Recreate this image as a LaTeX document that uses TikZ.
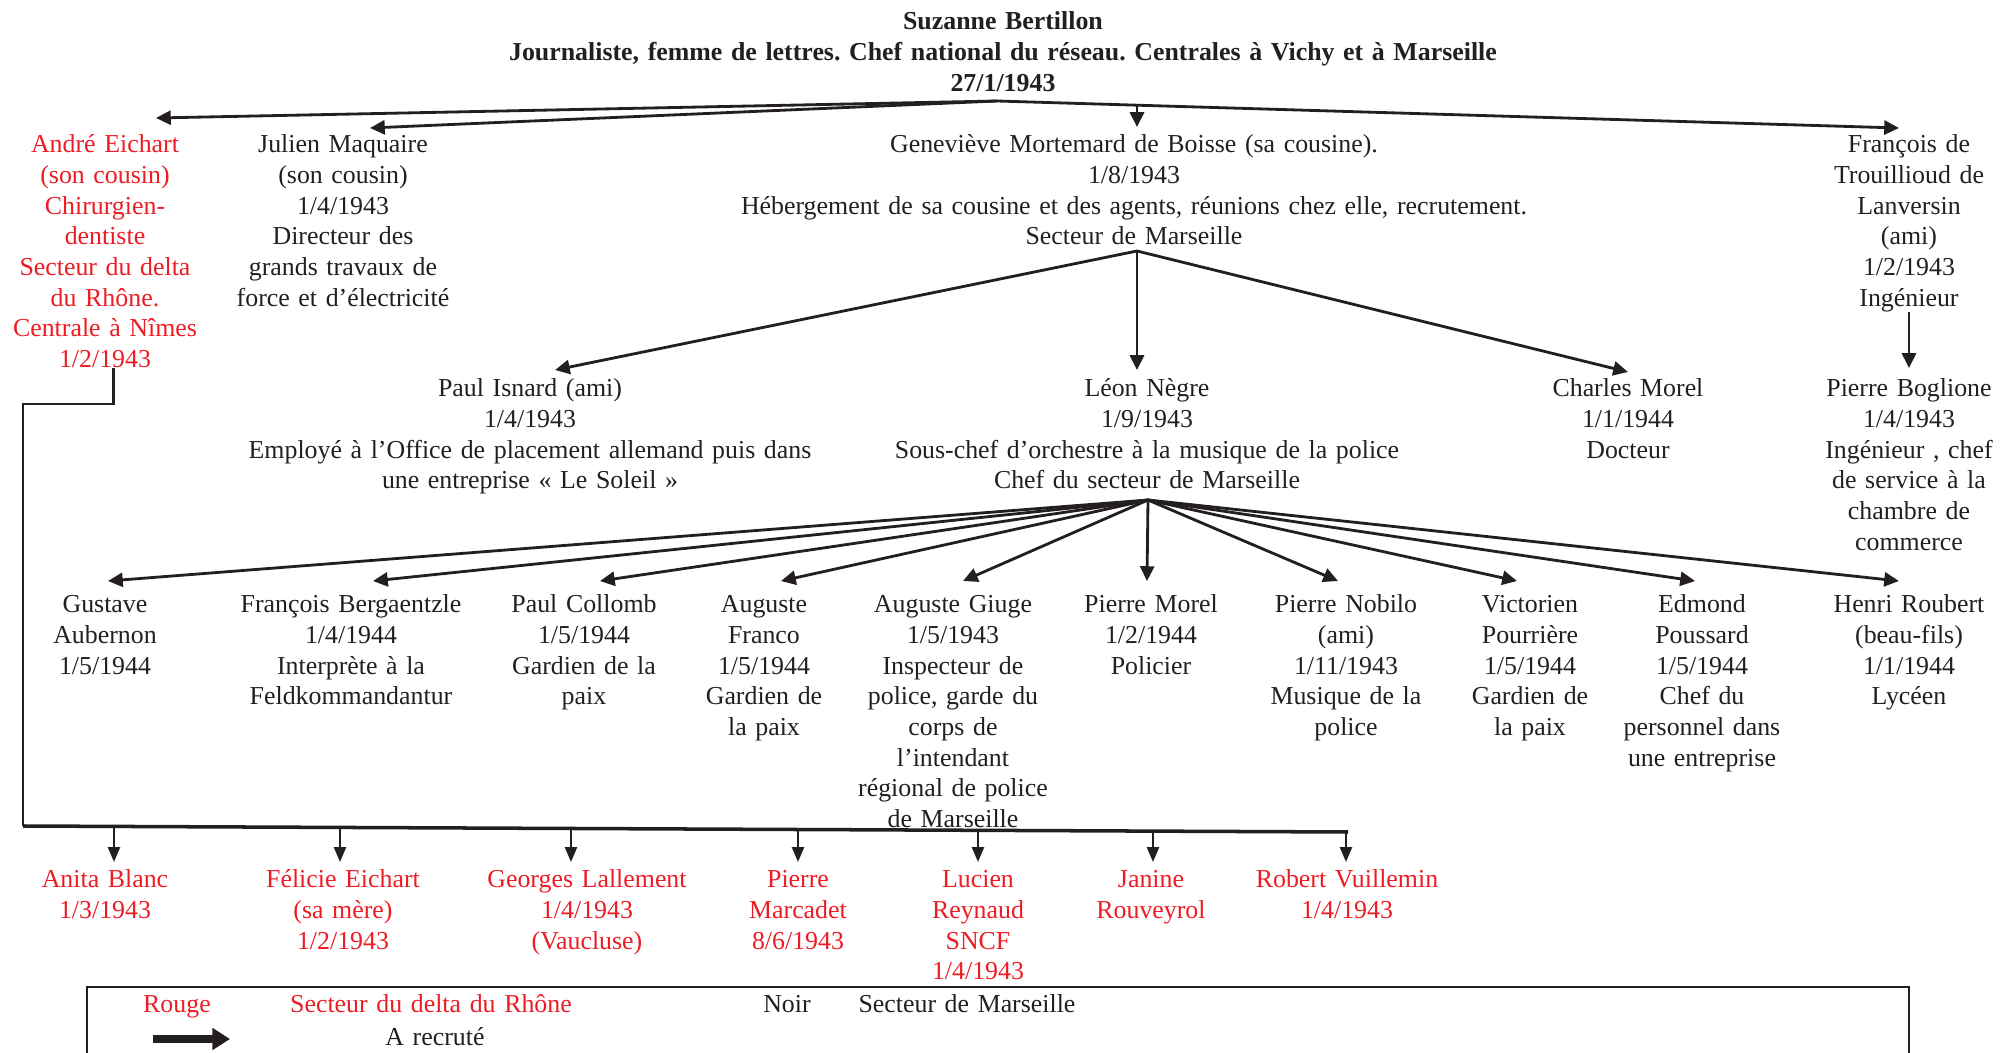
\documentclass[tikz,border=0pt]{standalone}
\usepackage{fontspec}
\setmainfont{Liberation Serif}
\usetikzlibrary{arrows.meta,positioning}
\definecolor{rougecol}{RGB}{237,28,36}
\definecolor{traitcol}{RGB}{35,31,32}
\frenchspacing

\begin{document}
\begin{tikzpicture}[x=0.1mm,y=-0.1mm,
   nom/.style={align=center,text width=110mm,inner sep=0pt,anchor=base,text=traitcol,
               font=\fontsize{7.36}{8.71}\selectfont},
   rouge/.style={nom,text=rougecol},
   rec/.style={-{Triangle[length=4.2pt,width=4pt]},thick,traitcol},
   recr/.style={-{Triangle[length=4.2pt,width=3.4pt]},line width=0.6pt,traitcol}]
  \useasboundingbox (0,0) rectangle (2000,1053);
  % tete du reseau
  \node[nom,font=\fontsize{7.36}{8.71}\selectfont\bfseries] (suzanne) at (1003,30)
       {Suzanne Bertillon\\Journaliste, femme de lettres. Chef national du réseau. Centrales à Vichy et à Marseille\\27/1/1943};

  % premier niveau
  \node[rouge] (andre) at (105,153)
       {André Eichart\\(son cousin)\\Chirurgien-\\dentiste\\Secteur du delta\\du Rhône.\\Centrale à Nîmes\\1/2/1943};
  \node[nom] (julien) at (343,153)
       {Julien Maquaire\\(son cousin)\\1/4/1943\\Directeur des\\grands travaux de\\force et d’électricité};
  \node[nom] (genev) at (1134,153)
       {Geneviève Mortemard de Boisse (sa cousine).\\1/8/1943\\Hébergement de sa cousine et des agents, réunions chez elle, recrutement.\\Secteur de Marseille};
  \node[nom] (francois) at (1909,153)
       {François de\\Trouillioud de\\Lanversin\\(ami)\\1/2/1943\\Ingénieur};

  % deuxieme niveau
  \node[nom] (isnard) at (530,397)
       {Paul Isnard (ami)\\1/4/1943\\Employé à l’Office de placement allemand puis dans\\une entreprise « Le Soleil »};
  \node[nom] (negre) at (1147,397)
       {Léon Nègre\\1/9/1943\\Sous-chef d’orchestre à la musique de la police\\Chef du secteur de Marseille};
  \node[nom] (cmorel) at (1628,397) {Charles Morel\\1/1/1944\\Docteur};
  \node[nom] (boglione) at (1909,397)
       {Pierre Boglione\\1/4/1943\\Ingénieur , chef\\de service à la\\chambre de\\commerce};

  % agents de Leon Negre
  \node[nom] (aubernon) at (105,613) {Gustave\\Aubernon\\1/5/1944};
  \node[nom] (bergaentzle) at (351,613) {François Bergaentzle\\1/4/1944\\Interprète à la\\Feldkommandantur};
  \node[nom] (collomb) at (584,613) {Paul Collomb\\1/5/1944\\Gardien de la\\paix};
  \node[nom] (franco) at (764,613) {Auguste\\Franco\\1/5/1944\\Gardien de\\la paix};
  \node[nom] (giuge) at (953,613)
       {Auguste Giuge\\1/5/1943\\Inspecteur de\\police, garde du\\corps de\\l’intendant\\régional de police\\de Marseille};
  \node[nom] (pmorel) at (1151,613) {Pierre Morel\\1/2/1944\\Policier};
  \node[nom] (nobilo) at (1346,613) {Pierre Nobilo\\(ami)\\1/11/1943\\Musique de la\\police};
  \node[nom] (pourriere) at (1530,613) {Victorien\\Pourrière\\1/5/1944\\Gardien de\\la paix};
  \node[nom] (poussard) at (1702,613) {Edmond\\Poussard\\1/5/1944\\Chef du\\personnel dans\\une entreprise};
  \node[nom] (roubert) at (1909,613) {Henri Roubert\\(beau-fils)\\1/1/1944\\Lycéen};

  % agents d'Andre Eichart
  \node[rouge] (blanc) at (105,888) {Anita Blanc\\1/3/1943};
  \node[rouge] (felicie) at (343,888) {Félicie Eichart\\(sa mère)\\1/2/1943};
  \node[rouge] (lallement) at (587,888) {Georges Lallement\\1/4/1943\\(Vaucluse)};
  \node[rouge] (marcadet) at (798,888) {Pierre\\Marcadet\\8/6/1943};
  \node[rouge] (reynaud) at (978,888) {Lucien\\Reynaud\\SNCF\\1/4/1943};
  \node[rouge] (rouveyrol) at (1151,888) {Janine\\Rouveyrol};
  \node[rouge] (vuillemin) at (1347,888) {Robert Vuillemin\\1/4/1943};

  % fourches
  \coordinate (rootfork) at (997,101);
  \coordinate (gtop) at (1137,105);
  \coordinate (gfork) at (1137,251);
  \coordinate (lfork) at (1148,500);
  \coordinate (barL) at (23,826);
  \coordinate (barR) at (1348,832);

  \draw[rec] (rootfork) -- ([shift={(51,-35)}]andre.base);
  \draw[rec] (rootfork) -- ([shift={(27,-25)}]julien.base);
  \draw[rec] (rootfork) -- ([shift={(-10,-25)}]francois.base);
  \draw[rec] (gtop) -- ([shift={(3,-26)}]genev.base);

  \draw[rec] (gfork) -- ([shift={(25,-27)}]isnard.base);
  \draw[rec] (gfork) -- ([shift={(-10,-27)}]negre.base);
  \draw[rec] (gfork) -- ([shift={(0,-25)}]cmorel.base);
  \draw[rec] (francois.south) -- ([shift={(0,-29)}]boglione.base);

  \draw[rec] (lfork) -- ([shift={(3,-32)}]aubernon.base);
  \draw[rec] (lfork) -- ([shift={(22,-32)}]bergaentzle.base);
  \draw[rec] (lfork) -- ([shift={(16,-32)}]collomb.base);
  \draw[rec] (lfork) -- ([shift={(17,-32)}]franco.base);
  \draw[rec] (lfork) -- ([shift={(10,-32)}]giuge.base);
  \draw[rec] (lfork) -- ([shift={(-4,-32)}]pmorel.base);
  \draw[rec] (lfork) -- ([shift={(-8,-32)}]nobilo.base);
  \draw[rec] (lfork) -- ([shift={(-13,-32)}]pourriere.base);
  \draw[rec] (lfork) -- ([shift={(-7,-32)}]poussard.base);
  \draw[rec] (lfork) -- ([shift={(-10,-32)}]roubert.base);

  % recrutement d'Andre Eichart
  \draw[traitcol,line width=0.6pt] ([xshift=0.85mm]andre.south) -- ++(0,36) -| (barL);
  \draw[traitcol,line width=1pt] (barL) -- (barR);
  \draw[recr] ([shift={(9,-62)}]blanc.base) -- ([shift={(9,-26)}]blanc.base);
  \draw[recr] ([shift={(-3,-61)}]felicie.base) -- ([shift={(-3,-26)}]felicie.base);
  \draw[recr] ([shift={(-16,-60)}]lallement.base) -- ([shift={(-16,-26)}]lallement.base);
  \draw[recr] ([shift={(0,-58)}]marcadet.base) -- ([shift={(0,-26)}]marcadet.base);
  \draw[recr] ([shift={(0,-58)}]reynaud.base) -- ([shift={(0,-26)}]reynaud.base);
  \draw[recr] ([shift={(2,-57)}]rouveyrol.base) -- ([shift={(2,-26)}]rouveyrol.base);
  \draw[recr] ([shift={(-1,-56)}]vuillemin.base) -- ([shift={(-1,-26)}]vuillemin.base);

  % legende
  \draw[traitcol,line width=0.8pt] (87,987) rectangle (1909,1120);
  \node[rouge] (lrouge) at (177,1013) {Rouge};
  \node[rouge] (lrhone) at (431,1013) {Secteur du delta du Rhône};
  \node[nom] (lnoir) at (787,1013) {Noir};
  \node[nom] (lmarseille) at (967,1013) {Secteur de Marseille};
  \node[nom] (lrecrute) at (435,1045) {A recruté};
  \coordinate (legA) at (153,1039);
  \coordinate (legB) at (230,1039);
  \draw[-{Triangle[length=5pt,width=6pt]},line width=2pt,traitcol] (legA) -- (legB);
\end{tikzpicture}
\end{document}
